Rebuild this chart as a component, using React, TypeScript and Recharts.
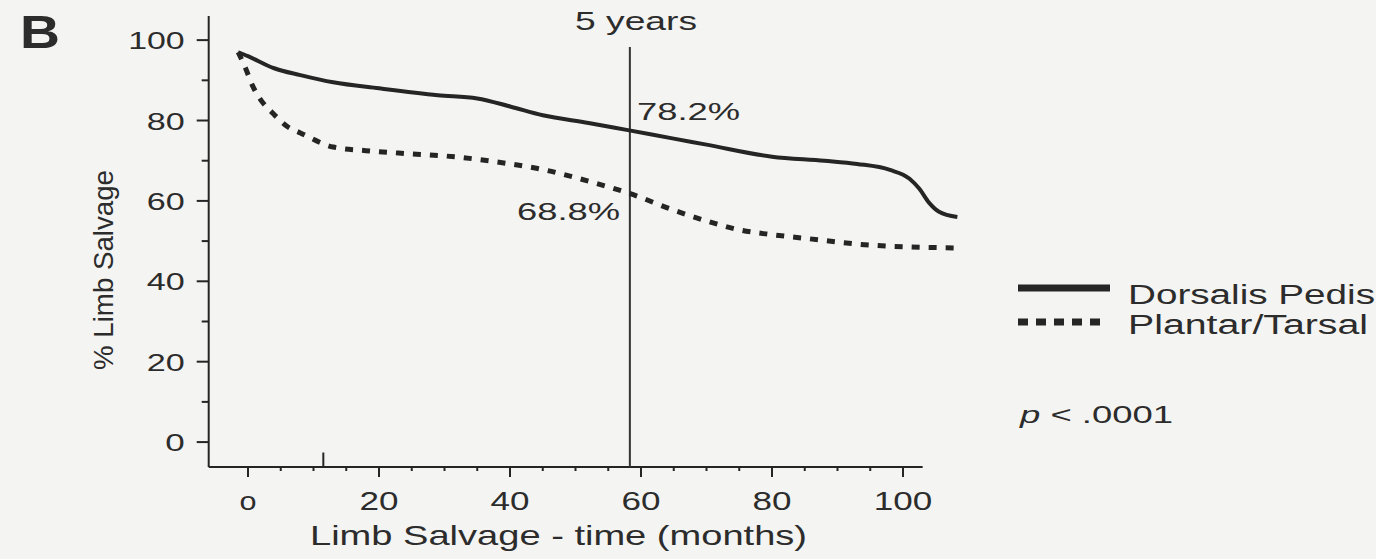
import { LineChart, Line, XAxis, YAxis, ReferenceLine } from 'recharts';

// Kaplan-Meier style limb salvage curves
const dpMonths = [-1.5, 0, 4, 8, 13, 20, 29, 35, 40, 45, 52, 58, 65, 70, 80, 88, 93, 98, 101, 102.5, 104, 105.5, 108.3];
const dpSalvage = [97, 96, 93, 91.3, 89.5, 88, 86.3, 85.5, 83.5, 81.3, 79.4, 77.6, 75.5, 74, 71, 70, 69.2, 67.7, 65.5, 63, 59.5, 57.3, 56];

const ptMonths = [-1.5, -0.5, 0.8, 2, 3.8, 6, 8, 13, 18, 23, 32, 40, 45, 50, 55, 58, 65, 70, 75, 80, 85, 95, 100, 108.3];
const ptSalvage = [97, 93.5, 88.3, 85, 81.8, 78.5, 76.9, 73.4, 72.5, 71.9, 70.9, 69.2, 67.8, 65.8, 63.5, 62, 57.7, 55, 52.8, 51.6, 50.7, 49, 48.6, 48.3];

const seriesNames = ['Dorsalis Pedis', 'Plantar/Tarsal'];
const xTicks = [0, 5, 10, 15, 20, 25, 30, 35, 40, 45, 50, 55, 60, 65, 70, 75, 80, 85, 90, 95, 100];
const yTicks = [0, 10, 20, 30, 40, 50, 60, 70, 80, 90, 100];
const fiveYears = 58.3;
const dpAt5 = '78.2%';
const ptAt5 = '68.8%';

const INK = '#252525';
const TEXT = '#2c2c2c';
const BG = '#f4f4f2';
const FONT = '"Liberation Sans", Arial, sans-serif';

const dpData = dpMonths.map((m, i) => ({ m, v: dpSalvage[i] }));
const ptData = ptMonths.map((m, i) => ({ m, v: ptSalvage[i] }));

// scanned figure is stretched sideways, so text gets forced widths
function T({ x, y, w, size, anchor = 'start', weight, children, transform }: any) {
  return (
    <text
      x={x}
      y={y}
      fontSize={size}
      fontWeight={weight}
      textAnchor={anchor}
      textLength={w}
      lengthAdjust="spacingAndGlyphs"
      fill={TEXT}
      fontFamily={FONT}
      transform={transform}
    >
      {children}
    </text>
  );
}

const XTick = ({ x, y, payload }: any) => {
  const v = payload.value;
  const major = v % 20 === 0;
  const label = v === 0 ? 'o' : String(v);
  return (
    <g>
      <line x1={x} x2={x} y1={y} y2={y + (major ? 10 : 4)} stroke={INK} strokeWidth={2} />
      {major && (
        <T x={x} y={y + 43} size={25} anchor="middle" w={v === 0 ? 17 : label.length * 19.5}>
          {label}
        </T>
      )}
    </g>
  );
};

const YTick = ({ x, y, payload }: any) => {
  const v = payload.value;
  const major = v % 20 === 0;
  const label = String(v);
  return (
    <g>
      <line x1={x} x2={x - (major ? 12 : 7)} y1={y} y2={y} stroke={INK} strokeWidth={2} />
      {major && (
        <T x={x - 24} y={y + 9} size={24} anchor="end" w={label.length * 18.5 + 1}>
          {label}
        </T>
      )}
    </g>
  );
};

export default function App() {
  return (
    <div style={{ position: 'absolute', left: 0, top: 0, width: 1376, height: 559, background: BG, fontFamily: FONT }}>
      <LineChart
        width={1376}
        height={559}
        margin={{ top: 16, right: 407.5, bottom: 32, left: 148.7 }}
      >
        <XAxis
          type="number"
          dataKey="m"
          domain={[-6, 110]}
          ticks={xTicks}
          tick={<XTick />}
          tickSize={0}
          tickMargin={0}
          axisLine={false}
          tickLine={false}
          height={60}
          interval={0}
          allowDataOverflow
        />
        <YAxis
          type="number"
          dataKey="v"
          domain={[-6.2, 106]}
          ticks={yTicks}
          tick={<YTick />}
          tickSize={0}
          tickMargin={0}
          axisLine={{ stroke: INK, strokeWidth: 2 }}
          tickLine={false}
          width={60}
          interval={0}
          allowDataOverflow
        />
        <ReferenceLine
          segment={[{ x: -6, y: -6.2 }, { x: 103, y: -6.2 }]}
          stroke={INK}
          strokeWidth={2}
          ifOverflow="visible"
        />
        <ReferenceLine
          segment={[{ x: 11.5, y: -6.2 }, { x: 11.5, y: -2.6 }]}
          stroke={INK}
          strokeWidth={2}
          ifOverflow="visible"
        />
        <ReferenceLine
          segment={[{ x: fiveYears, y: -6.2 }, { x: fiveYears, y: 98.3 }]}
          stroke="#333"
          strokeWidth={2}
          ifOverflow="visible"
        />
        <Line
          data={dpData}
          dataKey="v"
          name={seriesNames[0]}
          type="monotone"
          stroke={INK}
          strokeWidth={4}
          dot={false}
          isAnimationActive={false}
        />
        <Line
          data={ptData}
          dataKey="v"
          name={seriesNames[1]}
          type="monotone"
          stroke={INK}
          strokeWidth={5}
          strokeDasharray="8 9"
          dot={false}
          isAnimationActive={false}
        />
      </LineChart>

      <svg width={1376} height={559} style={{ position: 'absolute', left: 0, top: 0, pointerEvents: 'none' }}>
        <T x={20} y={48} size={46} weight="bold" w={40}>B</T>
        <T x={636} y={30} size={25} anchor="middle" w={122}>5 years</T>
        <T x={637} y={120} size={24} w={103}>{dpAt5}</T>
        <T x={517} y={220} size={24} w={103}>{ptAt5}</T>
        <T x={558.5} y={545} size={28} anchor="middle" w={497}>Limb Salvage - time (months)</T>
        <T x={0} y={0} size={28} anchor="middle" w={200} transform="translate(113,270) rotate(-90)">% Limb Salvage</T>

        <line x1={1018} x2={1110} y1={288} y2={288} stroke={INK} strokeWidth={7} />
        <line x1={1018} x2={1100} y1={322} y2={322} stroke={INK} strokeWidth={7} strokeDasharray="10 8" />
        <T x={1128} y={304} size={27} w={247}>{seriesNames[0]}</T>
        <T x={1128} y={334} size={27} w={240}>{seriesNames[1]}</T>

        <text x={1020} y={423} fontSize={24} fill={TEXT} fontFamily={FONT} textLength={153} lengthAdjust="spacingAndGlyphs">
          <tspan fontStyle="italic">p</tspan> &lt; .0001
        </text>
      </svg>
    </div>
  );
}
